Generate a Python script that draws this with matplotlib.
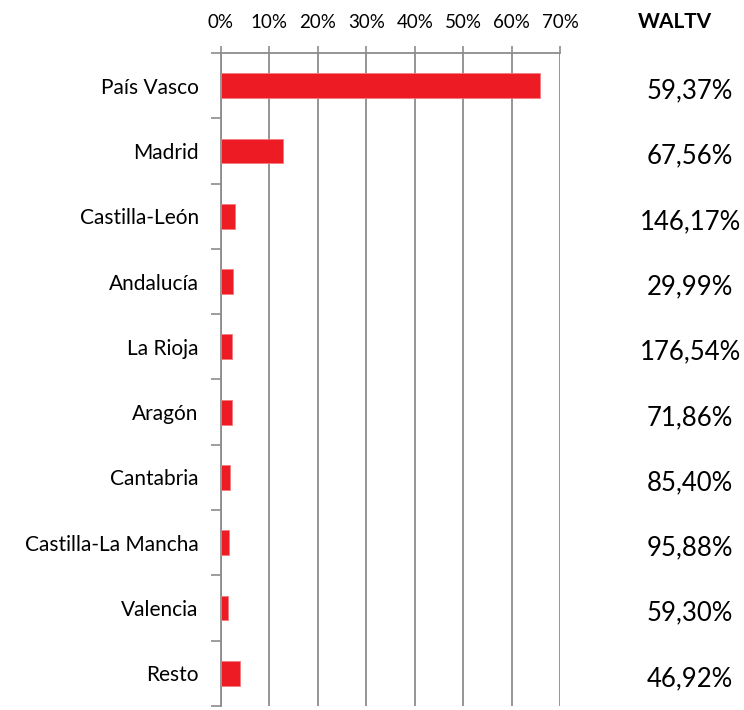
import numpy as np
import matplotlib
matplotlib.use('Agg')
import matplotlib.pyplot as plt
import matplotlib.transforms as mtransforms

# data
regions = ['País Vasco', 'Madrid', 'Castilla-León', 'Andalucía', 'La Rioja',
           'Aragón', 'Cantabria', 'Castilla-La Mancha', 'Valencia', 'Resto']
share = [65.9, 12.9, 2.9, 2.4, 2.3, 2.2, 1.9, 1.7, 1.4, 3.9]
waltv = ['59,37%', '67,56%', '146,17%', '29,99%', '176,54%',
         '71,86%', '85,40%', '95,88%', '59,30%', '46,92%']
xticks = [0, 10, 20, 30, 40, 50, 60, 70]

plt.rcParams['font.family'] = ['Lato', 'DejaVu Sans']

fig = plt.figure(figsize=(7.44, 7.10), dpi=100)
ax = fig.add_axes([0.297, 0.0056, 0.456, 0.9198])

y = np.arange(len(regions))
ax.barh(y, share, height=0.38, color='#ED1C24', edgecolor='#F47A7F', linewidth=0.6, zorder=3)
ax.set_ylim(len(regions) - 0.5, -0.5)
ax.set_xlim(0, 70)

# top axis
ax.xaxis.tick_top()
ax.set_xticks(xticks)
ax.set_xticklabels([f'{t}%' for t in xticks], fontsize=13.5)
ax.tick_params(axis='x', direction='out', length=5, width=1.2, color='#8c8c8c', pad=11)
ax.grid(axis='x', color='#8c8c8c', linewidth=1.3, zorder=0)

# categories with ticks between them
ax.set_yticks(y)
ax.set_yticklabels(regions, fontsize=15)
ax.tick_params(axis='y', which='major', length=0, pad=16)
ax.set_yticks(np.arange(len(regions) + 1) - 0.5, minor=True)
ax.tick_params(axis='y', which='minor', length=7, width=1.2, color='#8c8c8c', direction='out')

for s in ['right', 'bottom']:
    ax.spines[s].set_visible(False)
for s in ['top', 'left']:
    ax.spines[s].set_color('#8c8c8c')
    ax.spines[s].set_linewidth(1.3)

# WALTV column
trans = mtransforms.blended_transform_factory(fig.transFigure, ax.transData)
for i, v in enumerate(waltv):
    ax.text(690 / 744, i + 0.08, v, transform=trans, ha='center', va='center', fontsize=18.5)
fig.text(675 / 744, 1 - 22 / 710, 'WALTV', ha='center', va='center', fontsize=15, fontweight='bold')

plt.savefig('out.png', dpi=100)
